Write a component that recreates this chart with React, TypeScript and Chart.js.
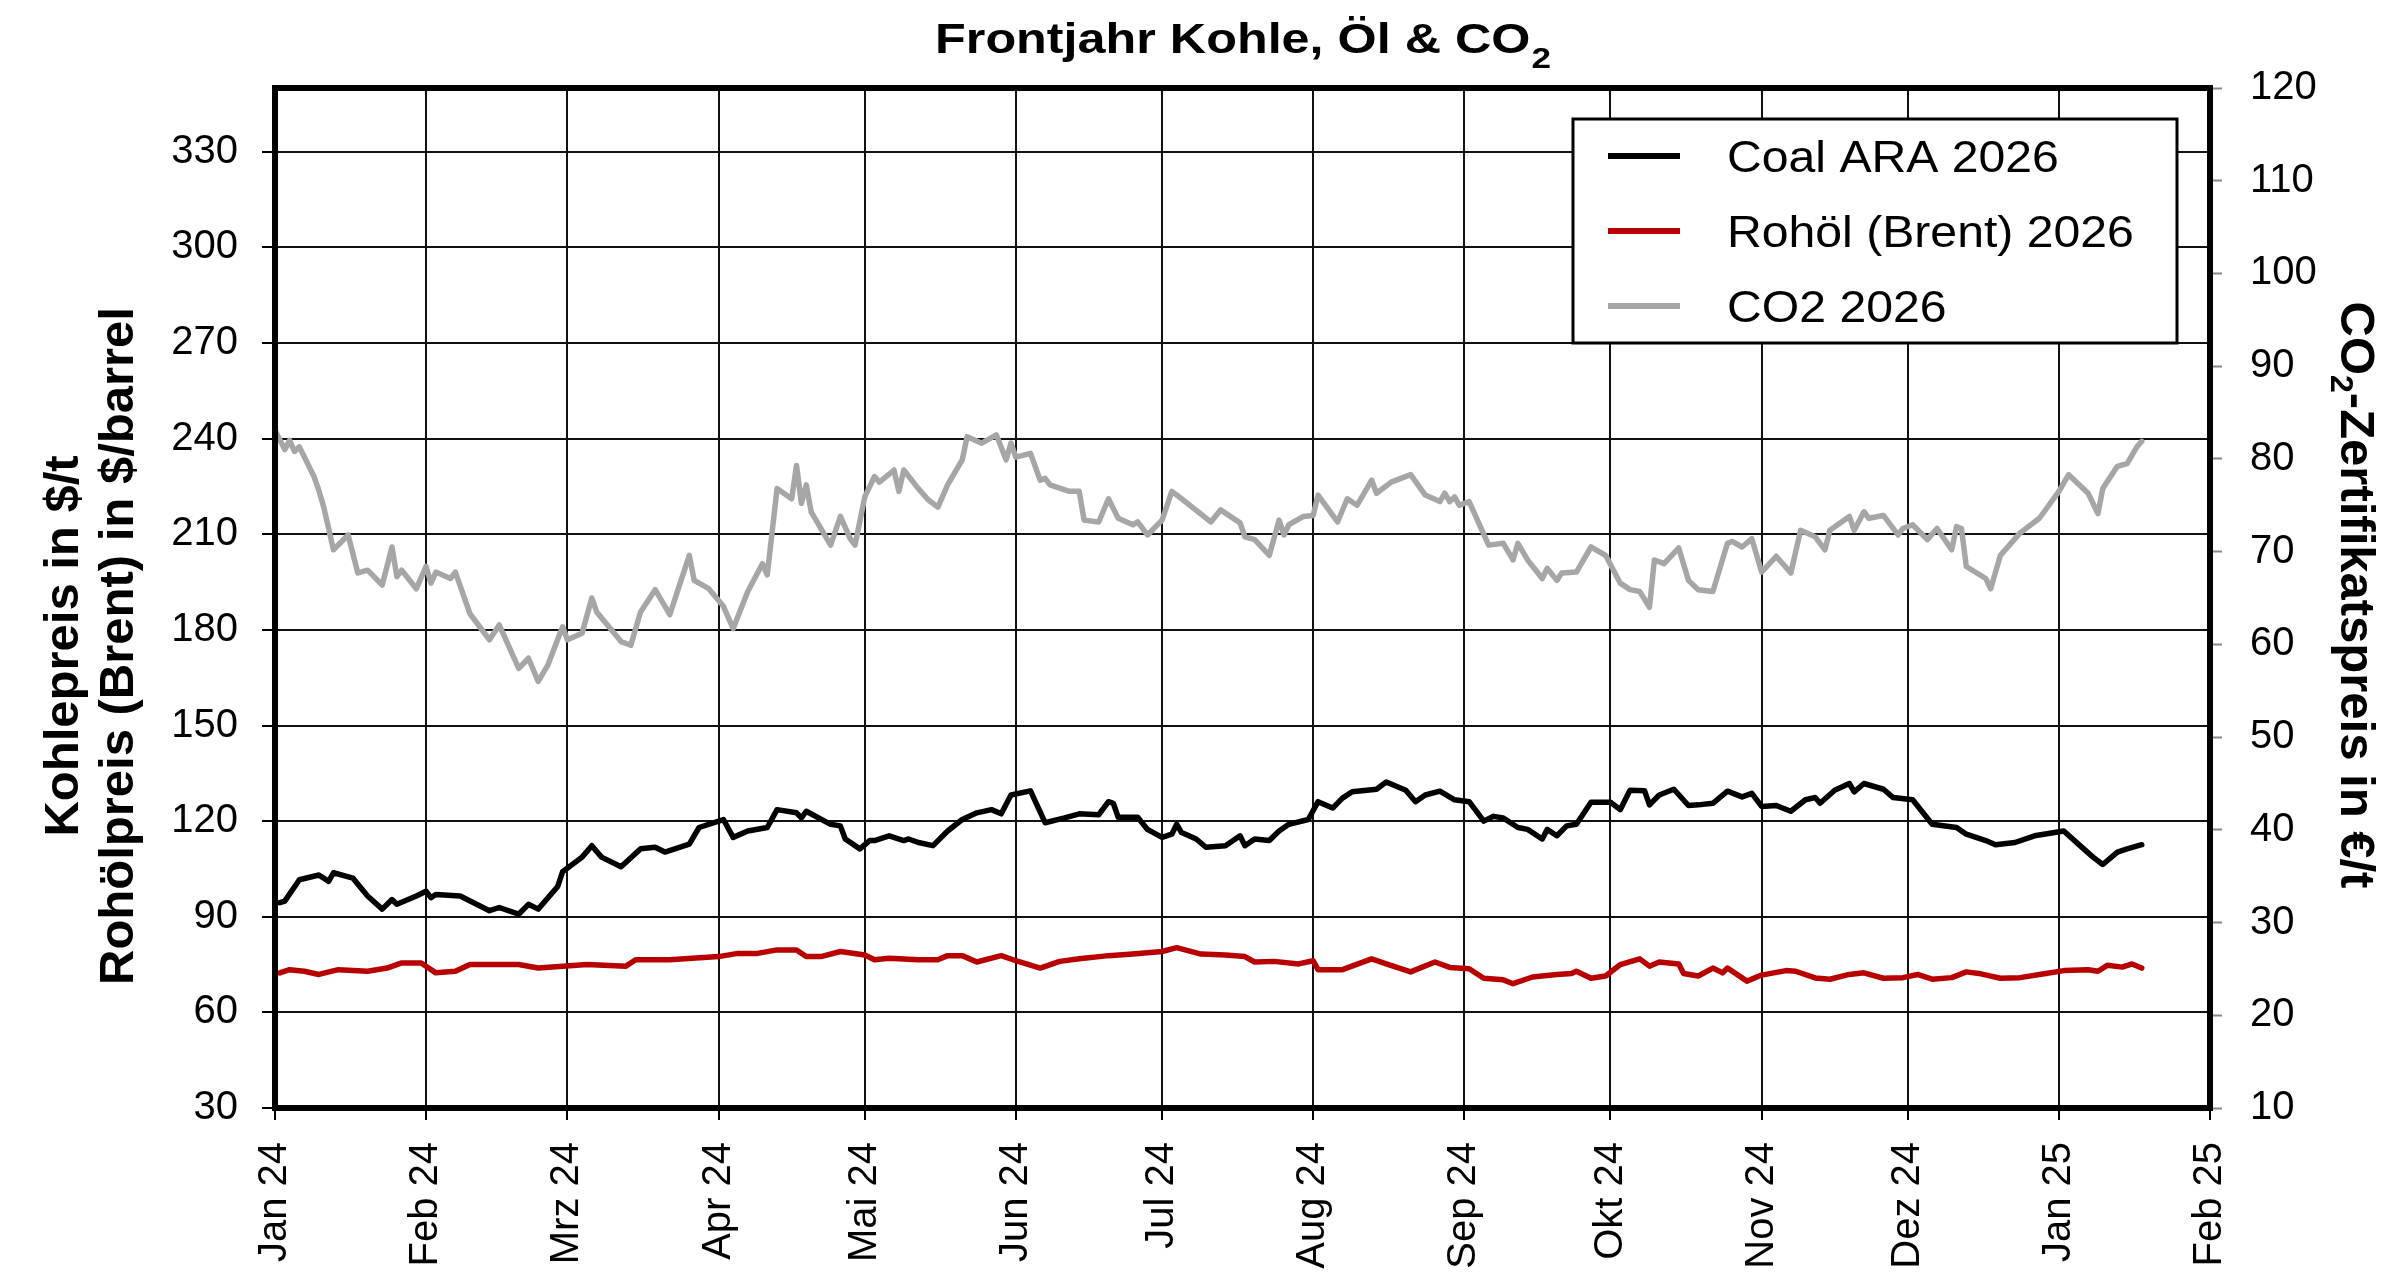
import React, { useEffect, useRef } from "react";
import { Chart, registerables } from "chart.js";

Chart.register(...registerables);

// Month boundaries (days since 2024-01-01) and their tick labels
const monthDays = [0, 31, 60, 91, 121, 152, 182, 213, 244, 274, 305, 335, 366, 397];
const monthLabels = [
  "Jan 24", "Feb 24", "Mrz 24", "Apr 24", "Mai 24", "Jun 24", "Jul 24",
  "Aug 24", "Sep 24", "Okt 24", "Nov 24", "Dez 24", "Jan 25", "Feb 25",
];

// Coal ARA 2026 ($/t) – days since 2024-01-01
const coalDays = [
  1, 2, 5, 9, 11, 12, 16, 19, 22, 24, 25, 29, 31, 32, 33, 38, 44, 46, 50, 52, 54, 58, 59, 63, 65, 67,
  71, 75, 78, 80, 85, 87, 92, 94, 97, 101, 103, 107, 108, 109, 114, 116, 117, 120, 122, 123, 126, 129,
  130, 132, 135, 138, 141, 144, 147, 149, 151, 155, 158, 162, 165, 169, 171, 172, 173, 177, 179, 182,
  184, 185, 186, 189, 191, 195, 198, 199, 201, 204, 206, 208, 212, 214, 217, 219, 221, 226, 228, 232,
  234, 236, 239, 242, 245, 248, 250, 252, 255, 257, 260, 261, 263, 265, 267, 270, 274, 276, 278, 281,
  282, 284, 287, 290, 292, 295, 298, 301, 303, 305, 308, 311, 314, 316, 317, 320, 323, 324, 326, 330,
  332, 336, 340, 345, 347, 351, 353, 357, 361, 367, 370, 373, 375, 378, 380, 383,
];
const coalValues = [
  94.4, 94.9, 101.6, 103.1, 101.1, 103.8, 102.1, 96.5, 92.4, 95.4, 93.9, 96.5, 98.0, 96.0, 97.0, 96.5,
  91.9, 92.9, 90.8, 93.9, 92.4, 99.5, 104.1, 108.7, 112.3, 108.7, 105.7, 111.3, 111.8, 110.3, 112.8,
  118.0, 120.5, 114.9, 116.9, 118.0, 123.6, 122.6, 121.0, 123.1, 119.0, 118.5, 114.4, 111.3, 113.9,
  113.9, 115.4, 113.9, 114.4, 113.3, 112.3, 116.9, 120.5, 122.6, 123.6, 122.3, 128.2, 129.5, 119.5,
  121.0, 122.3, 122.0, 126.1, 125.6, 121.2, 121.2, 117.4, 114.9, 115.9, 119.0, 116.4, 114.4, 111.8,
  112.3, 115.4, 112.3, 114.4, 113.9, 116.9, 119.0, 120.5, 126.1, 124.1, 127.2, 129.2, 130.0, 132.3,
  129.7, 126.1, 128.2, 129.4, 126.7, 126.1, 120.0, 121.5, 121.0, 118.0, 117.4, 114.4, 117.4, 115.4,
  118.5, 119.0, 125.9, 125.9, 123.6, 129.7, 129.5, 125.1, 128.2, 130.0, 124.9, 125.1, 125.6, 129.4,
  127.6, 128.7, 124.6, 124.9, 123.1, 126.7, 127.4, 125.6, 129.7, 131.8, 129.2, 131.8, 130.0, 127.4,
  126.7, 119.0, 118.0, 115.9, 113.9, 112.6, 113.3, 115.4, 116.9, 112.8, 108.7, 106.4, 110.3, 111.3,
  112.6,
];

// Rohöl (Brent) 2026 ($/barrel)
const oilDays = [
  1, 3, 6, 9, 13, 19, 23, 26, 30, 33, 37, 40, 50, 54, 64, 72, 74, 81, 91, 95, 99, 103, 107, 109, 112,
  116, 121, 123, 126, 132, 136, 138, 141, 144, 149, 152, 157, 161, 165, 171, 176, 182, 185, 190, 195,
  199, 201, 205, 210, 213, 214, 219, 225, 228, 233, 238, 241, 245, 248, 252, 254, 258, 263, 266, 267,
  270, 273, 276, 280, 282, 284, 288, 289, 292, 295, 297, 298, 302, 305, 310, 312, 316, 319, 323, 326,
  330, 334, 337, 340, 344, 347, 350, 354, 358, 363, 367, 372, 374, 376, 379, 381, 383,
];
const oilValues = [
  72.4, 73.4, 72.9, 71.9, 73.4, 72.9, 73.9, 75.5, 75.5, 72.4, 72.9, 75.0, 75.0, 73.9, 75.0, 74.5, 76.5,
  76.5, 77.5, 78.5, 78.5, 79.6, 79.6, 77.5, 77.5, 79.1, 78.0, 76.5, 77.0, 76.5, 76.5, 77.8, 77.8, 75.8,
  77.8, 76.2, 73.9, 76.0, 76.8, 77.8, 78.3, 79.1, 80.3, 78.3, 78.0, 77.5, 75.8, 76.0, 75.2, 76.2, 73.4,
  73.4, 76.8, 75.2, 72.7, 75.8, 74.1, 73.7, 70.7, 70.2, 69.0, 71.1, 71.9, 72.2, 72.9, 70.7, 71.4, 75.0,
  76.8, 74.5, 75.8, 75.2, 72.2, 71.4, 73.9, 72.4, 73.9, 69.8, 71.7, 73.1, 72.9, 70.8, 70.4, 71.9, 72.4,
  70.7, 70.9, 71.9, 70.4, 70.9, 72.7, 72.1, 70.7, 70.9, 72.1, 73.1, 73.4, 72.9, 74.8, 74.2, 75.2, 73.9,
];

// CO2 2026 (€/t)
const co2Days = [
  0, 2, 3, 4, 5, 8, 9, 10, 12, 15, 17, 19, 22, 24, 25, 26, 29, 31, 32, 33, 36, 37, 40, 44, 46, 50, 52,
  54, 56, 59, 60, 63, 65, 66, 71, 73, 75, 78, 81, 85, 86, 89, 92, 94, 97, 100, 101, 103, 106, 107, 108,
  109, 110, 114, 116, 118, 119, 121, 123, 124, 127, 128, 129, 132, 134, 136, 138, 141, 142, 145, 148,
  150, 151, 152, 155, 157, 158, 159, 163, 165, 166, 169, 171, 173, 176, 177, 179, 182, 184, 186, 192,
  194, 198, 199, 201, 204, 206, 207, 208, 211, 213, 214, 218, 220, 222, 225, 226, 229, 233, 236, 239,
  240, 241, 242, 243, 245, 249, 252, 254, 255, 257, 260, 261, 263, 264, 267, 270, 273, 276, 278, 280,
  282, 283, 285, 288, 290, 292, 295, 298, 299, 301, 303, 305, 308, 311, 313, 316, 318, 319, 323, 324,
  326, 327, 330, 333, 334, 336, 339, 341, 344, 345, 346, 347, 351, 352, 354, 358, 362, 366, 368, 372,
  374, 375, 378, 380, 382, 383,
];
const co2Values = [
  83.1, 81.0, 82.0, 80.8, 81.3, 78.1, 76.6, 74.8, 70.2, 71.8, 67.7, 68.0, 66.4, 70.5, 67.3, 68.0, 66.0,
  68.4, 66.6, 67.8, 67.1, 67.8, 63.3, 60.5, 62.1, 57.4, 58.5, 56.0, 57.8, 61.9, 60.5, 61.2, 65.0, 63.5,
  60.3, 59.9, 63.5, 65.9, 63.2, 69.6, 66.9, 66.0, 64.1, 61.7, 65.7, 68.7, 67.5, 76.8, 75.7, 79.3, 75.2,
  77.2, 74.3, 70.7, 73.8, 71.4, 70.7, 75.9, 78.1, 77.5, 78.8, 76.5, 78.8, 76.8, 75.6, 74.8, 77.2, 79.9,
  82.4, 81.7, 82.6, 79.9, 81.7, 80.2, 80.6, 77.7, 77.9, 77.2, 76.5, 76.5, 73.4, 73.2, 75.7, 73.6, 72.9,
  73.2, 71.8, 73.4, 76.5, 75.7, 73.2, 74.5, 73.1, 71.6, 71.3, 69.6, 73.4, 71.8, 72.9, 73.8, 73.9, 76.1,
  73.2, 75.7, 75.0, 77.7, 76.3, 77.5, 78.3, 76.1, 75.4, 76.3, 75.4, 75.9, 75.0, 75.4, 70.7, 70.9, 69.1,
  70.9, 69.1, 67.1, 68.2, 66.9, 67.7, 67.8, 70.5, 69.6, 66.6, 65.9, 65.7, 64.0, 69.1, 68.7, 70.4, 66.9,
  65.9, 65.7, 70.9, 71.1, 70.5, 71.4, 67.8, 69.5, 67.7, 72.3, 71.6, 70.2, 72.3, 73.8, 72.3, 74.3, 73.6,
  73.9, 71.8, 72.5, 72.9, 71.3, 72.5, 70.2, 72.7, 72.5, 68.4, 67.1, 66.0, 69.6, 72.0, 73.6, 76.5, 78.3,
  76.3, 74.1, 76.8, 79.2, 79.5, 81.3, 81.9,
];

const seriesLabels = ["Coal ARA 2026", "Rohöl (Brent) 2026", "CO2 2026"];
const seriesColors = ["#000000", "#B80000", "#A6A6A6"];

const FONT = "'Liberation Sans', Arial, Helvetica, sans-serif";

function pairs(days: number[], vals: number[]) {
  return days.map((d, i) => ({ x: d, y: vals[i] }));
}

const decorPlugin = {
  id: "decor",
  afterDatasetsDraw(chart: any) {
    const { ctx, chartArea: a } = chart;
    ctx.save();
    ctx.strokeStyle = "#000";
    ctx.lineWidth = 6;
    ctx.strokeRect(a.left, a.top, a.right - a.left, a.bottom - a.top);
    ctx.restore();
  },
  afterDraw(chart: any) {
    const ctx: CanvasRenderingContext2D = chart.ctx;
    const a = chart.chartArea;
    ctx.save();
    ctx.fillStyle = "#000";
    ctx.textBaseline = "alphabetic";

    // ---- Legend box ----
    const lx = 1573, ly = 119, lw = 604, lh = 224;
    ctx.fillStyle = "#fff";
    ctx.fillRect(lx, ly, lw, lh);
    ctx.strokeStyle = "#000";
    ctx.lineWidth = 3;
    ctx.strokeRect(lx, ly, lw, lh);
    const legFont = 45;
    chart.data.datasets.forEach((ds: any, i: number) => {
      const ry = 156 + i * 75;
      ctx.strokeStyle = ds.borderColor;
      ctx.lineWidth = 6;
      ctx.beginPath();
      ctx.moveTo(1608, ry);
      ctx.lineTo(1680, ry);
      ctx.stroke();
      ctx.fillStyle = "#000";
      ctx.font = `${legFont}px ${FONT}`;
      ctx.textAlign = "left";
      ctx.save();
      ctx.translate(1727, ry + legFont * 0.358);
      ctx.scale(1.07, 1);
      ctx.fillText(ds.label, 0, 0);
      ctx.restore();
    });

    // ---- Title with subscript ----
    const tMain = "Frontjahr Kohle, Öl & CO";
    const tSub = "2";
    const tFont = `bold 43px ${FONT}`;
    const sFont = `bold 30px ${FONT}`;
    const sx = 1.17;
    ctx.font = tFont;
    const w1 = ctx.measureText(tMain).width;
    ctx.font = sFont;
    const w2 = ctx.measureText(tSub).width;
    const total = (w1 + w2) * sx;
    const cx = (a.left + a.right) / 2;
    ctx.save();
    ctx.translate(cx - total / 2, 53);
    ctx.scale(sx, 1);
    ctx.textAlign = "left";
    ctx.fillStyle = "#000";
    ctx.font = tFont;
    ctx.fillText(tMain, 0, 0);
    ctx.font = sFont;
    ctx.fillText(tSub, w1 + 1, 15);
    ctx.restore();

    // ---- Left axis titles (two lines, rotated) ----
    const axFont = `bold 49px ${FONT}`;
    ctx.font = axFont;
    ctx.textAlign = "center";
    const leftLines = ["Kohlepreis in $/t", "Rohölpreis (Brent) in $/barrel"];
    const leftBase = [78, 133];
    leftLines.forEach((t, i) => {
      ctx.save();
      ctx.translate(leftBase[i], 646);
      ctx.rotate(-Math.PI / 2);
      ctx.fillText(t, 0, 0);
      ctx.restore();
    });

    // ---- Right axis title (rotated, with subscript) ----
    const r1 = "CO";
    const r2 = "2";
    const r3 = "-Zertifikatspreis in €/t";
    const rSubFont = `bold 32px ${FONT}`;
    ctx.font = axFont;
    const m1 = ctx.measureText(r1).width;
    const m3 = ctx.measureText(r3).width;
    ctx.font = rSubFont;
    const m2 = ctx.measureText(r2).width;
    const rTotal = m1 + m2 + m3;
    ctx.save();
    ctx.translate(2341, 595 - rTotal / 2);
    ctx.rotate(Math.PI / 2);
    ctx.textAlign = "left";
    ctx.font = axFont;
    ctx.fillText(r1, 0, 0);
    ctx.font = rSubFont;
    ctx.fillText(r2, m1, 10);
    ctx.font = axFont;
    ctx.fillText(r3, m1 + m2, 0);
    ctx.restore();

    ctx.restore();
  },
};

export default function App() {
  const ref = useRef<HTMLCanvasElement | null>(null);

  useEffect(() => {
    if (!ref.current) return;
    Chart.defaults.font.family = FONT;
    const mk = (i: number, days: number[], vals: number[], axis: string) => ({
      label: seriesLabels[i],
      data: pairs(days, vals),
      borderColor: seriesColors[i],
      backgroundColor: seriesColors[i],
      borderWidth: 5.5,
      pointRadius: 0,
      tension: 0,
      borderJoinStyle: "round",
      borderCapStyle: "round",
      yAxisID: axis,
    });
    const chart = new Chart(ref.current, {
      type: "line",
      data: {
        datasets: [
          mk(0, coalDays, coalValues, "y"),
          mk(1, oilDays, oilValues, "y"),
          mk(2, co2Days, co2Values, "y1"),
        ],
      },
      options: {
        responsive: false,
        animation: false,
        events: [],
        layout: { padding: { top: 88, left: 0, right: 0, bottom: 0 } },
        plugins: {
          legend: { display: false },
          title: { display: false },
          tooltip: { enabled: false },
        },
        scales: {
          x: {
            type: "linear",
            min: 0,
            max: 397,
            afterBuildTicks: (s: any) => {
              s.ticks = monthDays.map((v) => ({ value: v }));
            },
            afterFit: (s: any) => {
              s.height = 180;
            },
            ticks: {
              autoSkip: false,
              maxRotation: 90,
              minRotation: 90,
              padding: 22,
              color: "#000",
              font: { size: 40, family: FONT },
              callback: (v: any) => {
                const idx = monthDays.indexOf(Number(v));
                return idx >= 0 ? monthLabels[idx] : "";
              },
            },
            grid: {
              color: "#111",
              lineWidth: 2,
              tickLength: 12,
              tickColor: "#000",
              tickWidth: 2,
            },
            border: { display: false },
          },
          y: {
            type: "linear",
            position: "left",
            min: 30,
            max: 350,
            afterFit: (s: any) => {
              s.width = 275;
            },
            ticks: {
              stepSize: 30,
              includeBounds: false,
              padding: 24,
              color: "#000",
              font: { size: 40, family: FONT },
            },
            grid: {
              color: "#111",
              lineWidth: 2,
              tickLength: 13,
              tickColor: "#000",
              tickWidth: 2,
            },
            border: { display: false },
          },
          y1: {
            type: "linear",
            position: "right",
            min: 10,
            max: 120,
            afterFit: (s: any) => {
              s.width = 190;
            },
            ticks: {
              stepSize: 10,
              padding: 28,
              color: "#000",
              font: { size: 40, family: FONT },
            },
            grid: {
              drawOnChartArea: false,
              tickLength: 12,
              tickColor: "#888",
              tickWidth: 2,
            },
            border: { display: false },
          },
        },
      } as any,
      plugins: [decorPlugin],
    });
    return () => chart.destroy();
  }, []);

  return (
    <div
      style={{
        position: "absolute",
        left: 0,
        top: 0,
        width: 2400,
        height: 1288,
        background: "#fff",
      }}
    >
      <canvas
        ref={ref}
        width={2400}
        height={1288}
        style={{ width: 2400, height: 1288, display: "block" }}
      />
    </div>
  );
}
